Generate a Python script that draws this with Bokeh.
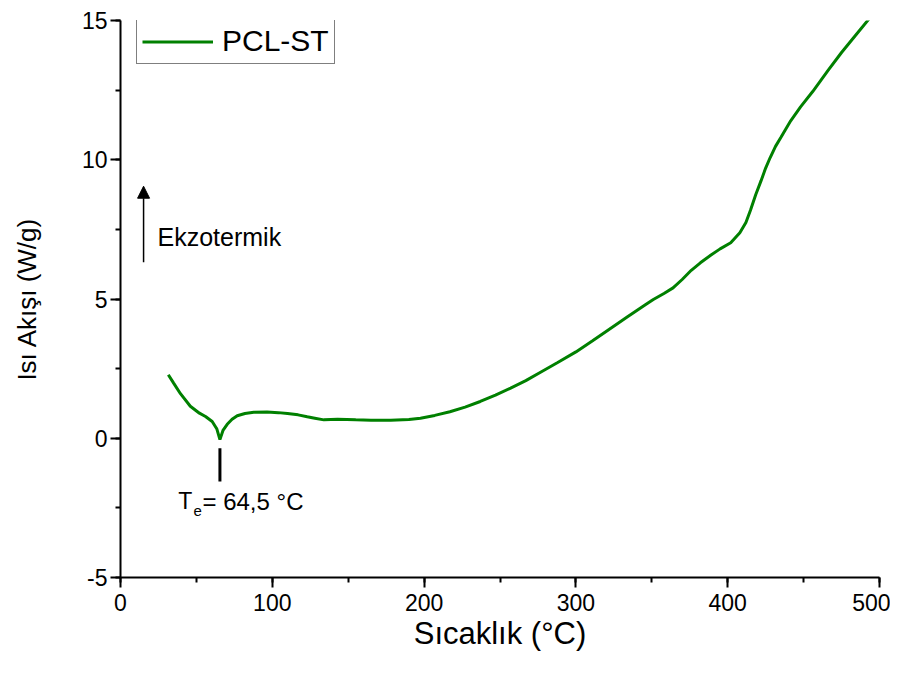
import math
from bokeh.plotting import figure
from bokeh.models import (Range1d, SingleIntervalTicker, Label, Arrow, NormalHead,
                          Legend, LegendItem, PrintfTickFormatter)
from bokeh.embed import file_html
from bokeh.resources import INLINE

# ---- data ----
temp = [31.5, 35, 39.5, 46, 52, 56, 60.4, 63.5, 65.5, 67.5, 70.3, 73.5, 76.9, 82, 87.8,
        96.6, 104, 110, 117, 123, 128, 134, 143, 155, 165, 178, 190, 197.6, 207, 217,
        227, 237, 247, 257, 267, 277, 288, 300, 311, 323, 334, 346, 351, 358, 364, 370,
        376, 382, 389, 395, 402, 408, 412, 415, 418.5, 422, 425, 428, 431.5, 435, 438,
        441.5, 448, 456, 466, 475, 484, 493]
heat = [2.28, 1.98, 1.60, 1.15, 0.90, 0.78, 0.60, 0.33, -0.05, 0.28, 0.50, 0.68, 0.81, 0.89, 0.93,
        0.94, 0.92, 0.89, 0.84, 0.77, 0.72, 0.66, 0.68, 0.66, 0.65, 0.65, 0.67, 0.72, 0.82, 0.95,
        1.12, 1.32, 1.55, 1.80, 2.07, 2.38, 2.72, 3.10, 3.50, 3.95, 4.36, 4.80, 4.98, 5.20, 5.40, 5.70,
        6.03, 6.30, 6.58, 6.80, 7.02, 7.38, 7.75, 8.19, 8.75, 9.25, 9.70, 10.08, 10.48, 10.80, 11.08,
        11.40, 11.90, 12.45, 13.20, 13.85, 14.45, 15.05]
series_name = "PCL-ST"
x_label = "Sıcaklık (°C)"
y_label = "Isı Akışı (W/g)"
te_value = 65.5
te_text_main = "= 64,5 °C"

FONT = "Liberation Sans"

p = figure(width=890, height=657, output_backend="svg", toolbar_location=None,
           x_range=Range1d(0, 500), y_range=Range1d(-5, 15),
           min_border_left=120, min_border_right=11, min_border_top=20, min_border_bottom=80)
p.outline_line_color = None
p.grid.visible = False
p.background_fill_color = "white"

for ax, interval in ((p.xaxis[0], 100), (p.yaxis[0], 5)):
    ax.ticker = SingleIntervalTicker(interval=interval, num_minor_ticks=2)
    ax.formatter = PrintfTickFormatter(format="%d")
    ax.axis_line_width = 2
    ax.axis_line_color = "black"
    ax.major_tick_line_width = 2
    ax.minor_tick_line_width = 2
    ax.major_tick_out = 10
    ax.major_tick_in = 0
    ax.minor_tick_out = 5
    ax.minor_tick_in = 0
    ax.major_label_text_font = FONT
    ax.major_label_text_font_size = "23px"
    ax.major_label_text_color = "black"
    ax.axis_label_text_font = FONT
    ax.axis_label_text_font_style = "normal"
    ax.axis_label_text_color = "black"

p.xaxis.major_label_standoff = 6
p.yaxis.major_label_standoff = 3
p.xaxis.axis_label = x_label
p.xaxis.axis_label_text_font_size = "31px"
p.xaxis.axis_label_standoff = 2
p.yaxis.axis_label = y_label
p.yaxis.axis_label_text_font_size = "26px"
p.yaxis.axis_label_standoff = 37

r = p.line(temp, heat, line_color="#008000", line_width=3)

legend = Legend(items=[LegendItem(label=series_name, renderers=[r])],
                location=(16, 513), padding=5, spacing=0, margin=0,
                glyph_width=71, glyph_height=31, label_standoff=9,
                label_text_font=FONT, label_text_font_size="30px", label_text_color="black",
                border_line_color="black", border_line_width=1,
                background_fill_alpha=1.0)
p.add_layout(legend)

# exotherm arrow
p.add_layout(Arrow(end=NormalHead(size=12, fill_color="black", line_color="black"),
                   x_start=15.2, y_start=6.32, x_end=15.2, y_end=9.05,
                   line_width=1.5, line_color="black"))
p.add_layout(Label(x=24.4, y=7.23, text="Ekzotermik", text_font=FONT,
                   text_font_size="25px", text_color="black", text_baseline="alphabetic"))

# Te marker
p.segment(x0=[te_value], y0=[-0.36], x1=[te_value], y1=[-1.55], line_color="black", line_width=3)
p.add_layout(Label(x=38.0, y=-2.27, text="T", text_font=FONT, text_font_size="23px",
                   text_color="black", text_baseline="alphabetic"))
p.add_layout(Label(x=48.1, y=-2.6, text="e", text_font=FONT, text_font_size="15px",
                   text_color="black", text_baseline="alphabetic"))
p.add_layout(Label(x=54.0, y=-2.27, text=te_text_main, text_font=FONT, text_font_size="24px",
                   text_color="black", text_baseline="alphabetic"))

open("out.html", "w").write(file_html(p, INLINE))
